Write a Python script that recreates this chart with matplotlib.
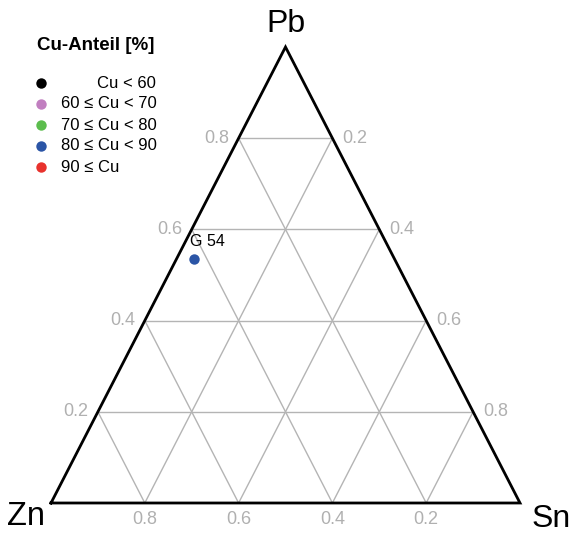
import numpy as np
import matplotlib
matplotlib.use("Agg")
import matplotlib.pyplot as plt
from matplotlib.transforms import offset_copy

plt.rcParams['font.family'] = ['Liberation Sans', 'DejaVu Sans']

# Sample composition (fractions of Zn, Sn, Pb)
samples = ["G 54"]
zn_vals = [0.428]
sn_vals = [0.037]
pb_vals = [0.535]
sample_class = [3]  # index into the Cu classes

# Cu classes for the legend
cu_labels = ["Cu < 60", "60 \u2264 Cu < 70", "70 \u2264 Cu < 80", "80 \u2264 Cu < 90", "90 \u2264 Cu"]
cu_colors = ["#000000", "#C17FC0", "#5CBD4E", "#2B55A6", "#E8322D"]

ticks = [0.2, 0.4, 0.6, 0.8]
corners = ["Zn", "Sn", "Pb"]


def tern(zn, sn, pb):
    # Zn at bottom left, Sn at bottom right, Pb at top
    return sn + pb / 2.0, pb


W, H = 571, 533
fig = plt.figure(figsize=(W / 100, H / 100), dpi=100)
ax = fig.add_axes([0, 0, 1, 1])
ax.axis("off")

# triangle placement in pixels
x0, x1 = 51, 520
ytop, ybot = 47, 503
sx = x1 - x0
sy = ybot - ytop
ax.set_xlim(-x0 / sx, (W - x0) / sx)
ax.set_ylim(-(H - ybot) / sy, 1 + ytop / sy)

grid_kw = dict(color="#b4b4b4", lw=1.0, zorder=1)
for v in ticks:
    # Pb = v
    p = tern(1 - v, 0, v), tern(0, 1 - v, v)
    ax.plot([p[0][0], p[1][0]], [p[0][1], p[1][1]], **grid_kw)
    # Sn = v
    p = tern(0, v, 1 - v), tern(1 - v, v, 0)
    ax.plot([p[0][0], p[1][0]], [p[0][1], p[1][1]], **grid_kw)
    # Zn = v
    p = tern(v, 0, 1 - v), tern(v, 1 - v, 0)
    ax.plot([p[0][0], p[1][0]], [p[0][1], p[1][1]], **grid_kw)

# outline
tri = [tern(1, 0, 0), tern(0, 1, 0), tern(0, 0, 1), tern(1, 0, 0)]
ax.plot([t[0] for t in tri], [t[1] for t in tri], color="black", lw=2.0,
        solid_joinstyle="miter", zorder=3)

tick_col = "#b0b0b0"
tfs = 13
left_tr = offset_copy(ax.transData, fig=fig, x=-7, y=0, units="points")
right_tr = offset_copy(ax.transData, fig=fig, x=7, y=0, units="points")
bot_tr = offset_copy(ax.transData, fig=fig, x=0, y=-6, units="points")
for v in ticks:
    x, y = tern(1 - v, 0, v)
    ax.text(x, y, f"{v:.1f}", transform=left_tr, ha="right", va="center",
            color=tick_col, fontsize=tfs)
    x, y = tern(0, v, 1 - v)
    ax.text(x, y, f"{v:.1f}", transform=right_tr, ha="left", va="center",
            color=tick_col, fontsize=tfs)
    x, y = tern(v, 1 - v, 0)
    ax.text(x, y, f"{v:.1f}", transform=bot_tr, ha="center", va="top",
            color=tick_col, fontsize=tfs)

# corner labels
x, y = tern(0, 0, 1)
ax.text(x, y, corners[2], transform=offset_copy(ax.transData, fig=fig, x=0, y=11, units="points"),
        ha="center", va="baseline", fontsize=23)
x, y = tern(1, 0, 0)
ax.text(x, y, corners[0], transform=offset_copy(ax.transData, fig=fig, x=-4, y=-16, units="points"),
        ha="right", va="baseline", fontsize=23.5)
x, y = tern(0, 1, 0)
ax.text(x, y, corners[1], transform=offset_copy(ax.transData, fig=fig, x=8, y=-17, units="points"),
        ha="left", va="baseline", fontsize=23)

# data points
for name, zn, sn, pb, c in zip(samples, zn_vals, sn_vals, pb_vals, sample_class):
    x, y = tern(zn, sn, pb)
    ax.plot(x, y, "o", ms=7.5, color=cu_colors[c], mec="none", zorder=4)
    ax.text(x, y, name, transform=offset_copy(ax.transData, fig=fig, x=-3, y=7, units="points"),
            ha="left", va="bottom", fontsize=11.5)

# legend drawn in figure pixels
def px(xp, yp):
    return xp / W, 1 - yp / H

fig.text(*px(37, 46), "Cu-Anteil [%]", fontsize=13.5, fontweight="bold", va="center")
for i, (lab, col) in enumerate(zip(cu_labels, cu_colors)):
    yy = 83 + i * 21
    fig.lines.append(plt.Line2D([41 / W], [1 - yy / H], marker="o", ms=7.5, color=col,
                                mec="none", transform=fig.transFigure))
    xt = 97 if i == 0 else 61
    fig.text(*px(xt, yy), lab, fontsize=12, va="center")

fig.savefig("out.png", dpi=100)
